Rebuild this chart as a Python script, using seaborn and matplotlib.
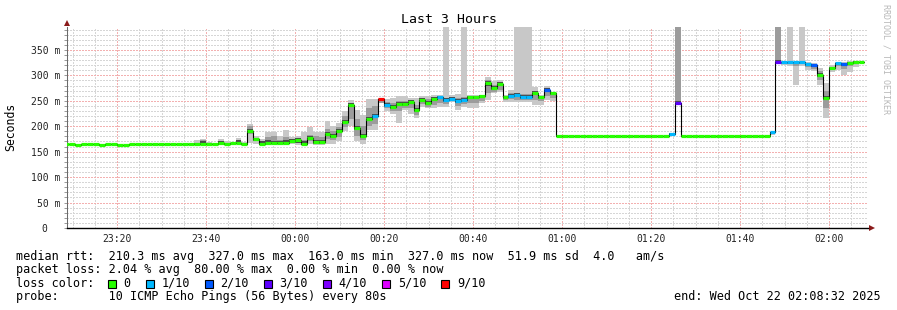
import numpy as np
import pandas as pd
import matplotlib
matplotlib.use("Agg")
import matplotlib.pyplot as plt
import matplotlib.dates as mdates
from matplotlib.patches import Rectangle, Polygon
from matplotlib.ticker import MultipleLocator, FuncFormatter
import seaborn as sns

# ---------------- data ----------------
start_time = "2025-10-21 23:07:57"
step_seconds = 80
view_start = "2025-10-21 23:08:45"
view_end = "2025-10-22 02:08:45"

median_ms = [
    164.5, 164.5, 163, 164.5, 164.5, 164.5, 163, 164.5, 164.5, 163,
    163, 164.5, 164.5, 164.5, 164.5, 164.5, 164.5, 164.5, 164.5, 164.5,
    164.5, 165, 165, 166, 165, 164.5, 168, 165, 167, 168,
    165, 191, 174, 166, 168, 167, 167, 168, 170, 172,
    166, 177, 169, 169, 185, 181, 191, 208, 241, 196,
    181, 215, 221, 254, 242, 238, 243, 243, 247, 232,
    252, 246, 253, 257, 251, 253, 250, 252, 257, 257,
    259, 284, 276, 283, 257, 260, 261, 258, 258, 265,
    258, 271, 265, 181, 181, 181, 181, 181, 181, 181,
    181, 181, 181, 181, 181, 181, 181, 181, 181, 181,
    181, 181, 185, 246, 181, 181, 181, 181, 181, 181,
    181, 181, 181, 181, 181, 181, 181, 181, 181, 188,
    327, 326.5, 326.5, 326.5, 326.5, 323, 321, 300, 256, 314,
    324, 323, 324.5, 327, 327, np.nan,
]

loss_pings = [
    0, 0, 0, 0, 0, 0, 0, 0, 0, 0,
    0, 0, 0, 0, 0, 0, 0, 0, 0, 0,
    0, 0, 0, 0, 0, 0, 0, 0, 0, 0,
    0, 0, 0, 0, 0, 0, 0, 0, 0, 0,
    0, 0, 0, 0, 0, 0, 0, 0, 0, 0,
    0, 0, 1, 8, 1, 0, 0, 0, 0, 0,
    0, 0, 0, 1, 1, 1, 1, 1, 0, 0,
    0, 0, 0, 0, 0, 1, 1, 1, 1, 0,
    0, 2, 0, 0, 0, 0, 0, 0, 0, 0,
    0, 0, 0, 0, 0, 0, 0, 0, 0, 0,
    0, 0, 1, 3, 0, 0, 0, 0, 0, 0,
    0, 0, 0, 0, 0, 0, 0, 0, 0, 1,
    3, 1, 1, 1, 1, 1, 2, 0, 0, 0,
    1, 2, 0, 0, 0, 0,
]

smoke_min = [
    164.5, 164.5, 163, 164.5, 164.5, 164.5, 163, 164.5, 164.5, 163,
    163, 164.5, 164.5, 164.5, 164.5, 164.5, 164.5, 164.5, 164.5, 164.5,
    164.5, 164, 164, 164, 164, 163, 164, 164, 164, 165,
    164, 168, 166, 164, 165, 164, 164, 164, 165, 164,
    163, 166, 164, 164, 165, 166, 170, 190, 200, 170,
    166, 193, 193, 245, 229, 225, 206, 232, 224, 216,
    238, 235, 235, 238, 238, 247, 232, 238, 236, 236,
    245, 252, 265, 268, 248, 248, 247, 247, 247, 242,
    242, 252, 250, 181, 181, 181, 181, 181, 181, 181,
    181, 181, 181, 181, 181, 181, 181, 181, 181, 181,
    181, 181, 183, 246, 181, 181, 181, 181, 181, 181,
    181, 181, 181, 181, 181, 181, 181, 181, 181, 183,
    327, 320, 318, 281, 318, 311, 308, 281, 216, 307,
    311, 301, 307, 317, 311, np.nan,
]

smoke_max = [
    164.5, 164.5, 163, 164.5, 164.5, 164.5, 163, 164.5, 164.5, 163,
    163, 164.5, 164.5, 164.5, 164.5, 164.5, 164.5, 164.5, 164.5, 164.5,
    164.5, 168, 172, 174, 169, 168, 174, 171, 169, 177,
    169, 204, 180, 174, 189, 189, 180, 193, 178, 180,
    189, 199, 189, 189, 210, 200, 207, 230, 251, 232,
    222, 253, 253, 256, 253, 255, 260, 260, 255, 255,
    260, 260, 261, 261, 400, 262, 263, 400, 261, 261,
    262, 297, 288, 291, 261, 271, 400, 400, 400, 278,
    262, 279, 268, 181, 181, 181, 181, 181, 181, 181,
    181, 181, 181, 181, 181, 181, 181, 181, 181, 181,
    181, 181, 186, 400, 181, 181, 181, 181, 181, 181,
    181, 181, 181, 181, 181, 181, 181, 181, 181, 188,
    400, 327, 400, 327, 400, 327, 325, 315, 285, 320,
    327, 327, 328, 329, 329, np.nan,
]

smoke_q_lo = [
    164.5, 164.5, 163, 164.5, 164.5, 164.5, 163, 164.5, 164.5, 163,
    163, 164.5, 164.5, 164.5, 164.5, 164.5, 164.5, 164.5, 164.5, 164.5,
    164.5, 164, 164, 165, 164, 164, 165, 164, 165, 166,
    164, 185, 170, 165, 166, 165, 165, 165, 167, 167,
    164, 170, 166, 166, 175, 172, 178, 198, 215, 180,
    172, 200, 205, 246, 235, 230, 230, 236, 235, 222,
    243, 238, 242, 245, 243, 249, 240, 243, 245, 245,
    250, 265, 268, 272, 251, 253, 252, 252, 252, 252,
    250, 260, 255, 181, 181, 181, 181, 181, 181, 181,
    181, 181, 181, 181, 181, 181, 181, 181, 181, 181,
    181, 181, 184, 246, 181, 181, 181, 181, 181, 181,
    181, 181, 181, 181, 181, 181, 181, 181, 181, 184,
    327, 322, 322, 318, 322, 316, 312, 290, 235, 310,
    318, 312, 318, 322, 320, np.nan,
]

smoke_q_hi = [
    164.5, 164.5, 163, 164.5, 164.5, 164.5, 163, 164.5, 164.5, 163,
    163, 164.5, 164.5, 164.5, 164.5, 164.5, 164.5, 164.5, 164.5, 164.5,
    164.5, 166, 168, 172, 167, 166, 170, 168, 168, 172,
    167, 200, 177, 170, 178, 180, 172, 178, 174, 176,
    172, 183, 180, 178, 195, 190, 198, 220, 246, 215,
    200, 235, 240, 254, 248, 246, 250, 250, 251, 242,
    256, 253, 257, 259, 256, 257, 256, 258, 259, 259,
    261, 290, 282, 287, 259, 265, 266, 263, 263, 270,
    260, 275, 267, 181, 181, 181, 181, 181, 181, 181,
    181, 181, 181, 181, 181, 181, 181, 181, 181, 181,
    181, 181, 186, 400, 181, 181, 181, 181, 181, 181,
    181, 181, 181, 181, 181, 181, 181, 181, 181, 188,
    400, 327, 327, 327, 327, 325, 323, 308, 270, 317,
    325, 325, 326, 328, 328, np.nan,
]

loss_labels = ["0", "1/10", "2/10", "3/10", "4/10", "5/10", "9/10"]
loss_limits = [0, 1, 2, 3, 4, 5, 9]
loss_colors = ["#26ff00", "#00b8ff", "#0059ff", "#5e00ff", "#7e00ff", "#dd00ff", "#ff0000"]

y_ticks_major = 50
y_ticks_minor = 10
y_top = 395

legend_lines = [
    "median rtt:  210.3 ms avg  327.0 ms max  163.0 ms min  327.0 ms now  51.9 ms sd  4.0   am/s",
    "packet loss: 2.04 % avg  80.00 % max  0.00 % min  0.00 % now",
]
loss_title = "loss color:"
probe_line = "probe:       10 ICMP Echo Pings (56 Bytes) every 80s"
end_line = "end: Wed Oct 22 02:08:32 2025"
title = "Last 3 Hours"
ylabel = "Seconds"
credit = "RRDTOOL / TOBI OETIKER"

# ---------------- style ----------------
sns.set_style("white")
plt.rcParams["font.family"] = ["DejaVu Sans Mono", "DejaVu Sans"]

W, H = 897, 310
fig = plt.figure(figsize=(W / 100, H / 100), dpi=100)
fig.patch.set_facecolor("white")
L, R, T, B = 67, 868, 27, 228
ax = fig.add_axes([L / W, 1 - B / H, (R - L) / W, (B - T) / H])
ax.set_facecolor("white")

med = np.array(median_ms, float)
lo = np.array(smoke_min, float)
hi = np.array(smoke_max, float)
qlo = np.array(smoke_q_lo, float)
qhi = np.array(smoke_q_hi, float)
n = len(med)

times = pd.date_range(start_time, periods=n, freq=f"{step_seconds}s")
x0 = mdates.date2num(times.to_pydatetime())
w = step_seconds / 86400.0
xe = np.append(x0, x0[-1] + w)


def ext(a):
    return np.append(a, a[-1])


# smoke layers
ax.fill_between(xe, ext(lo), ext(hi), step="post", color="#c8c8c8", lw=0, zorder=2)
ax.fill_between(xe, ext(qlo), ext(qhi), step="post", color="#9c9c9c", lw=0, zorder=2.1)
dlo = np.maximum(qlo, med - 4)
dhi = np.minimum(qhi, med + 4)
dmask = qhi > qlo
dlo = np.where(dmask, dlo, med)
dhi = np.where(dmask, dhi, med)
ax.fill_between(xe, ext(dlo), ext(dhi), step="post", color="#4a4a4a", lw=0, zorder=2.2)

# black median step line
valid = ~np.isnan(med)
xv = x0[valid]
mv = med[valid]
df_line = pd.DataFrame({"t": np.append(xv, xv[-1] + w), "ms": np.append(mv, mv[-1])})
sns.lineplot(data=df_line, x="t", y="ms", drawstyle="steps-post", color="#000000",
             lw=0.8, estimator=None, ax=ax, zorder=3)


def color_for(lossv):
    for lim, c in zip(loss_limits, loss_colors):
        if lossv <= lim:
            return c
    return loss_colors[-1]


seg_colors = [color_for(l) for l, v in zip(loss_pings, valid) if v]
ax.hlines(mv, xv, xv + w, colors=seg_colors, lw=2.3, zorder=4)

# axes
ax.set_xlim(mdates.date2num(pd.Timestamp(view_start)), mdates.date2num(pd.Timestamp(view_end)))
ax.set_ylim(0, y_top)
ax.set_xlabel("")
ax.set_ylabel("")
ax.xaxis.set_major_locator(mdates.MinuteLocator(byminute=[0, 20, 40]))
ax.xaxis.set_minor_locator(mdates.MinuteLocator(byminute=range(0, 60, 5)))
ax.xaxis.set_major_formatter(mdates.DateFormatter("%H:%M"))
ax.yaxis.set_major_locator(MultipleLocator(y_ticks_major))
ax.yaxis.set_minor_locator(MultipleLocator(y_ticks_minor))
ax.yaxis.set_major_formatter(FuncFormatter(lambda v, p: "0  " if v == 0 else f"{v:.0f} m"))

ax.grid(which="minor", color="#d6d6d6", linestyle=(0, (1.4, 1.4)), linewidth=0.72, antialiased=False)
ax.grid(which="major", color="#f3b0b0", linestyle=(0, (1.4, 1.4)), linewidth=0.72, antialiased=False)
ax.set_axisbelow(True)

ax.tick_params(axis="x", which="both", bottom=False, length=0, pad=4, labelsize=7, labelcolor="#222222")
ax.tick_params(axis="y", which="both", left=True, direction="out", length=2, width=0.7,
               color="#999999", pad=3, labelsize=7, labelcolor="#222222")

for s in ["top", "right"]:
    ax.spines[s].set_visible(False)
ax.spines["left"].set_color("#6a6a6a")
ax.spines["left"].set_linewidth(0.75)
ax.spines["bottom"].set_color("#000000")
ax.spines["bottom"].set_linewidth(1.0)

# arrows
pxw = 1.0 / (R - L)
pxh = 1.0 / (B - T)
ax.add_patch(Polygon([(-3 * pxw, 1 + 1 * pxh), (3 * pxw, 1 + 1 * pxh), (0, 1 + 7 * pxh)],
                     closed=True, transform=ax.transAxes, clip_on=False, color="#8b1a1a", lw=0))
ax.add_patch(Polygon([(1 + 1 * pxw, -3 * pxh), (1 + 1 * pxw, 3 * pxh), (1 + 7 * pxw, 0)],
                     closed=True, transform=ax.transAxes, clip_on=False, color="#8b1a1a", lw=0))

# texts
fig.text(449 / W, 1 - 19.5 / H, title, ha="center", va="center", fontsize=9.5, color="#000000")
fig.text(11 / W, 1 - 127 / H, ylabel, rotation=90, ha="center", va="center", fontsize=8.3, color="#000000")
fig.text(886 / W, 1 - 4 / H, credit, rotation=270, ha="center", va="top", fontsize=6, color="#b8b8b8")

fs = 8.5
cw = fs * 100 / 72 * 0.602
baselines = [260, 273.5, 287, 300]
x_text = 16
for line, yb in zip(legend_lines, baselines[:2]):
    fig.text(x_text / W, 1 - yb / H, line, ha="left", va="baseline", fontsize=fs, color="#000000")

fig.text(x_text / W, 1 - baselines[2] / H, loss_title, ha="left", va="baseline", fontsize=fs, color="#000000")
sq = 8
xs = 108
for lab, col in zip(loss_labels, loss_colors):
    fig.patches.append(Rectangle((xs / W, 1 - (baselines[2] + 1) / H), sq / W, sq / H,
                                 transform=fig.transFigure, facecolor=col, edgecolor="#000000",
                                 lw=0.8, figure=fig))
    xl = xs + 15.5
    fig.text(xl / W, 1 - baselines[2] / H, lab, ha="left", va="baseline", fontsize=fs, color="#000000")
    xs = xl + len(lab) * cw + 15.2

fig.text(x_text / W, 1 - baselines[3] / H, probe_line, ha="left", va="baseline", fontsize=fs, color="#000000")
fig.text(881 / W, 1 - baselines[3] / H, end_line, ha="right", va="baseline", fontsize=fs, color="#000000")

fig.savefig("out.png", dpi=100, facecolor="white")
